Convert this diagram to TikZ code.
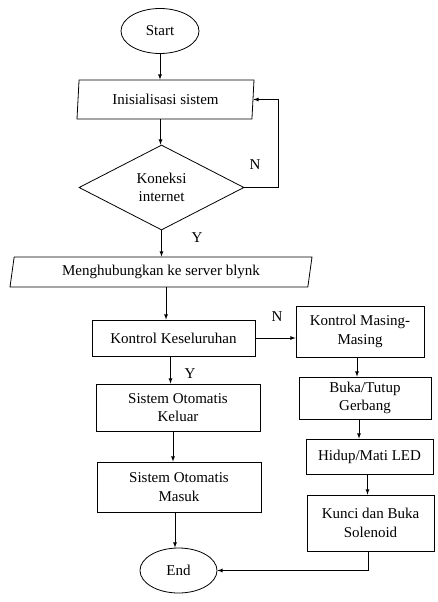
\documentclass[tikz,border=0pt]{standalone}
\usepackage{fontspec}
\setmainfont{Liberation Serif}
\usetikzlibrary{shapes.geometric}

\begin{document}
\begin{tikzpicture}[x=1pt,y=-1pt,font=\fontsize{15}{18.5}\selectfont,line width=0.8pt,
  proc/.style={draw, rectangle, align=center, inner sep=0pt},
  io/.style={draw, trapezium, trapezium stretches body, inner sep=0pt},
  term/.style={draw, ellipse, inner sep=0pt, minimum width=78, minimum height=45},
  lbl/.style={inner sep=0pt}]
\useasboundingbox (0,0) rectangle (438,602);

\node[term] (start) at (160,31) {Start};
\node[io, trapezium left angle=79, trapezium right angle=101,
  minimum width=177, minimum height=39] (init) at (165.5,99.5) {Inisialisasi sistem};
\node[draw, diamond, align=center, inner sep=0pt, aspect=1.9,
  minimum width=165, minimum height=85] (cek) at (161.5,187.5) {Koneksi\\internet};
\node[io, trapezium left angle=73, trapezium right angle=107,
  minimum width=302, minimum height=30] (blynk) at (161,272) {Menghubungkan ke server blynk};

\node[proc, minimum width=163, minimum height=36] (total) at (173.5,338) {Kontrol Keseluruhan};
\node[proc, minimum width=164, minimum height=47] (keluar) at (178,407.5) {Sistem Otomatis\\Keluar};
\node[proc, minimum width=164, minimum height=50] (masuk) at (179,487) {Sistem Otomatis\\Masuk};
\node[term, minimum width=77] (end) at (178.5,570.5) {End};

\node[proc, minimum width=128, minimum height=51] (masing) at (360,331.5) {Kontrol Masing-\\Masing};
\node[proc, minimum width=132, minimum height=42] (gerbang) at (365,398) {Buka/Tutup\\Gerbang};
\node[proc, minimum width=127, minimum height=35] (led) at (369.5,456.5) {Hidup/Mati LED};
\node[proc, minimum width=127, minimum height=56] (kunci) at (370.5,523) {Kunci dan Buka\\Solenoid};

\node[lbl] (n1) at (255,165) {N};
\node[lbl] (y1) at (197,238) {Y};
\node[lbl] (n2) at (277,317) {N};
\node[lbl] (y2) at (190,374) {Y};

\draw[-latex] (start.south) -- (init.north -| start.south);
\draw[-latex] ([xshift=-5pt]init.south) -- ([xshift=-5pt]init.south |- cek.north);
\draw[-latex] (cek.east) -- ++(34,0) |- (init.east);
\draw[-latex] (cek.south) -- (blynk.north -| cek.south);
\draw[-latex] ([xshift=5pt]blynk.south) -- ([xshift=5pt]blynk.south |- total.north);
\draw[-latex] (total.east) -- (masing.west |- total.east);
\draw[-latex] ([xshift=-3pt]total.south) -- ([xshift=-3pt]total.south |- keluar.north);
\draw[-latex] ([xshift=-5pt]keluar.south) -- ([xshift=-5pt]keluar.south |- masuk.north);
\draw[-latex] ([xshift=-4pt]masuk.south) -- ([xshift=-4pt]masuk.south |- end.north);
\draw[-latex] ([xshift=-3pt]masing.south) -- ([xshift=-3pt]masing.south |- gerbang.north);
\draw[-latex] ([xshift=-6pt]gerbang.south) -- ([xshift=-6pt]gerbang.south |- led.north);
\draw[-latex] ([xshift=-2pt]led.south) -- ([xshift=-2pt]led.south |- kunci.north);
\draw[-latex] ([xshift=-2pt]kunci.south) |- (end.east);
\end{tikzpicture}
\end{document}
